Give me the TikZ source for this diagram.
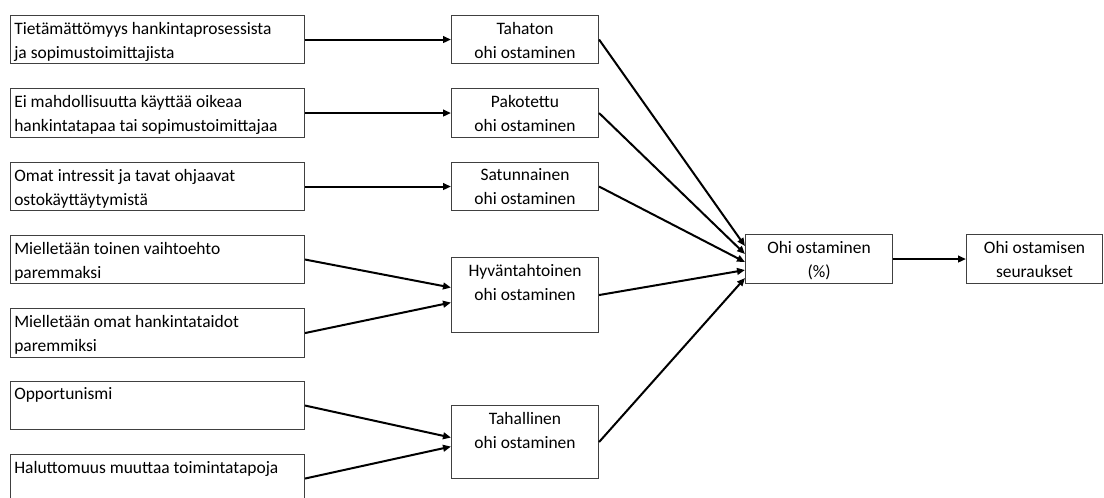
\documentclass[tikz,border=0pt]{standalone}
\usepackage{fontspec}
\setmainfont{Carlito}
\usetikzlibrary{arrows.meta,calc}
\tikzset{
  box/.style={rectangle, draw=black!75, line width=0.8pt, anchor=north west},
  txt/.style={inner xsep=3pt, inner ysep=5pt, font=\fontsize{13.1}{18}\selectfont},
  link/.style={line width=1.5pt, -{Triangle[length=6pt,width=5pt]}}
}
\begin{document}
\begin{tikzpicture}[x=0.75pt,y=-0.75pt]
\clip (0,0) rectangle (1104,497);

% causes
\node (rectA) [box, minimum width=220.5pt, minimum height=36pt] at (10,15) {};
\node [txt, below right, align=left] at (rectA.north west) {Tietämättömyys hankintaprosessista\\ja sopimustoimittajista};
\node (rectB) [box, minimum width=220.5pt, minimum height=36.75pt] at (10,88) {};
\node [txt, below right, align=left] at (rectB.north west) {Ei mahdollisuutta käyttää oikeaa\\hankintatapaa tai sopimustoimittajaa};
\node (rectC) [box, minimum width=220.5pt, minimum height=36pt] at (10,162) {};
\node [txt, below right, align=left] at (rectC.north west) {Omat intressit ja tavat ohjaavat\\ostokäyttäytymistä};
\node (rectD) [box, minimum width=220.5pt, minimum height=36pt] at (10,235) {};
\node [txt, below right, align=left] at (rectD.north west) {Mielletään toinen vaihtoehto\\paremmaksi};
\node (rectE) [box, minimum width=220.5pt, minimum height=36.75pt] at (10,308) {};
\node [txt, below right, align=left] at (rectE.north west) {Mielletään omat hankintataidot\\paremmiksi};
\node (rectF) [box, minimum width=220.5pt, minimum height=36pt] at (10,381) {};
\node [txt, below right, align=left] at (rectF.north west) {Opportunismi};
\node (rectG) [box, minimum width=220.5pt, minimum height=36pt] at (10,454) {};
\node [txt, below right, align=left] at (rectG.north west) {Haluttomuus muuttaa toimintatapoja};

% types
\node (tahaton) [box, minimum width=110.25pt, minimum height=36pt] at (451,15) {};
\node [txt, below, align=center] at (tahaton.north) {Tahaton\\ohi ostaminen};
\node (pakotettu) [box, minimum width=110.25pt, minimum height=36.75pt] at (451,88) {};
\node [txt, below, align=center] at (pakotettu.north) {Pakotettu\\ohi ostaminen};
\node (satunnainen) [box, minimum width=110.25pt, minimum height=36pt] at (451,162) {};
\node [txt, below, align=center] at (satunnainen.north) {Satunnainen\\ohi ostaminen};
\node (hyva) [box, minimum width=110.25pt, minimum height=56.25pt] at (451,257) {};
\node [txt, below, align=center] at (hyva.north) {Hyväntahtoinen\\ohi ostaminen};
\node (tahallinen) [box, minimum width=110.25pt, minimum height=54.75pt] at (451,405) {};
\node [txt, below, align=center] at (tahallinen.north) {Tahallinen\\ohi ostaminen};

% result
\node (ohi) [box, minimum width=110.25pt, minimum height=36.75pt] at (745,234) {};
\node [txt, below, align=center] at (ohi.north) {Ohi ostaminen\\(\%)};
\node (seuraukset) [box, minimum width=102pt, minimum height=36.75pt] at (966,234) {};
\node [txt, below, align=center] at (seuraukset.north) {Ohi ostamisen\\seuraukset};

\draw [link] (rectA) -- (tahaton);
\draw [link] (rectB) -- (pakotettu);
\draw [link] (rectC.east) -- (satunnainen.west);
\draw [link] (rectD.east) -- ($(hyva.west)+(0,-7.5)$);
\draw [link] (rectE.east) -- ($(hyva.west)+(0,7.5)$);
\draw [link] (rectF.east) -- ($(tahallinen.west)+(0,-4.5)$);
\draw [link] (rectG.east) -- ($(tahallinen.west)+(0,4.5)$);

\draw [link] (tahaton.east) -- ($(ohi.west)+(0,-13)$);
\draw [link] (pakotettu.east) -- ($(ohi.west)+(0,-5)$);
\draw [link] (satunnainen.east) -- ($(ohi.west)+(0,3)$);
\draw [link] (hyva.east) -- ($(ohi.west)+(0,11)$);
\draw [link] (tahallinen.east) -- ($(ohi.west)+(0,19)$);
\draw [link] (ohi) -- (seuraukset);
\end{tikzpicture}
\end{document}
